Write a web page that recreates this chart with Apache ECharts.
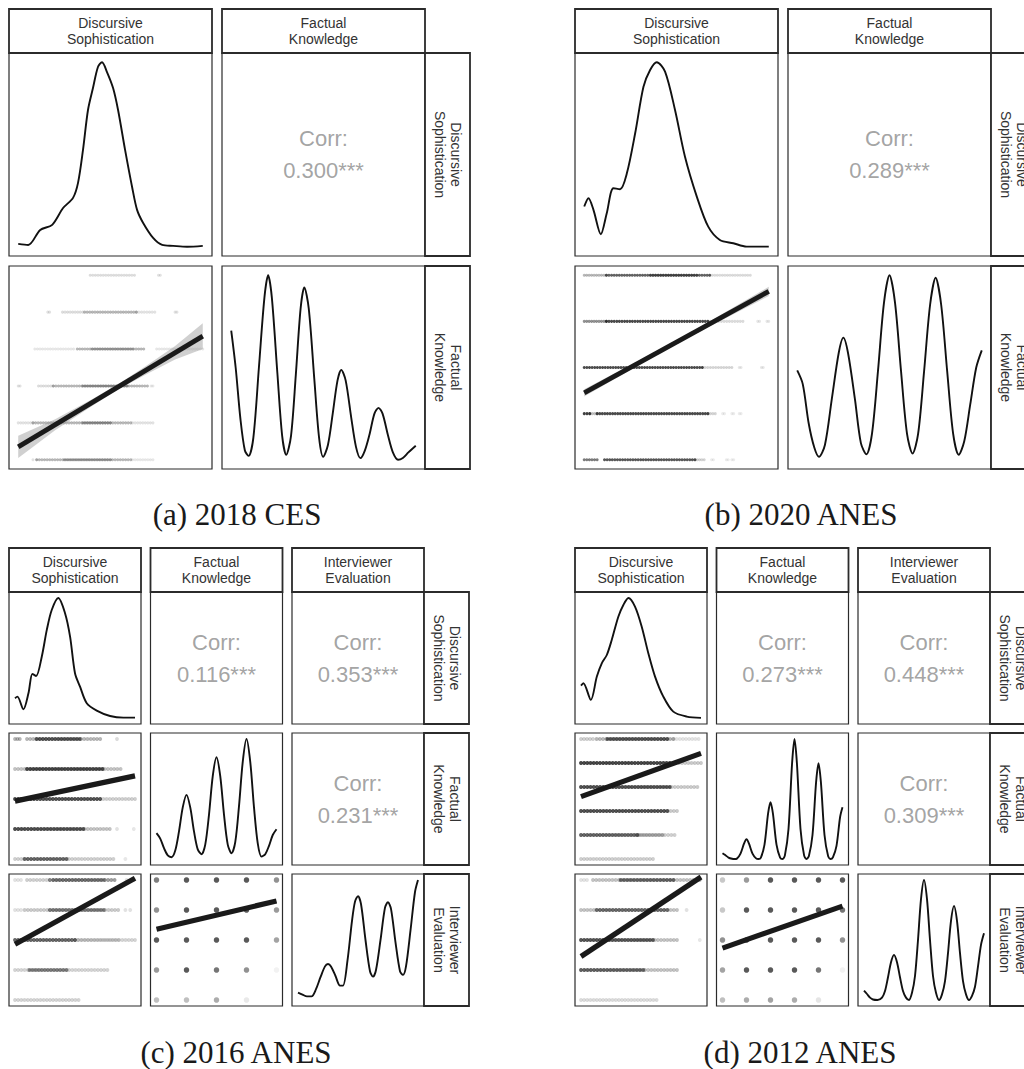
<!DOCTYPE html>
<html><head><meta charset="utf-8">
<script src="https://cdn.jsdelivr.net/npm/echarts@6/dist/echarts.min.js"></script>
<style>html,body{margin:0;padding:0;background:#fff}#c{width:1024px;height:1069px}</style>
</head><body><div id="c"></div>
<script>
// ================= DATA =================
const varLabels = {ds:'Discursive\nSophistication', fk:'Factual\nKnowledge', ie:'Interviewer\nEvaluation'};
const captions = ['(a) 2018 CES','(b) 2020 ANES','(c) 2016 ANES','(d) 2012 ANES'];

const a_vars = ['ds','fk'];
const b_vars = ['ds','fk'];
const c_vars = ['ds','fk','ie'];
const d_vars = ['ds','fk','ie'];

const a_ranges = {ds:[0,1], fk:[0,5]};
const b_ranges = {ds:[0,1], fk:[0,4]};
const c_ranges = {ds:[0,1], fk:[0,4], ie:[1,5]};
const d_ranges = {ds:[0,1], fk:[0,5], ie:[1,5]};

const a_corr = ['0.300***'];
const b_corr = ['0.289***'];
const c_corr = ['0.116***','0.353***','0.231***'];
const d_corr = ['0.273***','0.448***','0.309***'];

// densities: [value, relative density]
const a_dens_ds = [[0,0.016],[0.054,0.01],[0.119,0.091],[0.184,0.119],[0.243,0.21],[0.297,0.265],[0.324,0.346],[0.351,0.525],[0.378,0.741],[0.405,0.86],[0.432,0.974],[0.454,1.0],[0.481,0.947],[0.514,0.86],[0.541,0.741],[0.579,0.525],[0.617,0.324],[0.644,0.2],[0.677,0.129],[0.731,0.048],[0.78,0.01],[0.839,0.005],[0.915,0.0],[1.0,0.005]];
const a_dens_fk = [[0,0.70],[0.12,0.5],[0.25,0.22],[0.37,0.05],[0.47,0.021],[0.6,0.12],[0.75,0.5],[0.9,0.88],[1,1.0],[1.1,0.88],[1.25,0.47],[1.38,0.13],[1.49,0.027],[1.62,0.13],[1.75,0.46],[1.88,0.82],[1.98,0.934],[2.1,0.82],[2.25,0.44],[2.38,0.12],[2.49,0.016],[2.62,0.08],[2.75,0.25],[2.88,0.43],[2.98,0.487],[3.1,0.43],[3.25,0.23],[3.38,0.07],[3.5,0.009],[3.62,0.05],[3.75,0.14],[3.88,0.25],[3.99,0.281],[4.1,0.25],[4.25,0.13],[4.38,0.04],[4.52,0.0],[4.65,0.01],[4.8,0.04],[5,0.076]];
const b_dens_ds = [[0,0.218],[0.023,0.263],[0.05,0.2],[0.09,0.068],[0.122,0.182],[0.158,0.317],[0.194,0.312],[0.231,0.398],[0.276,0.615],[0.321,0.867],[0.357,0.958],[0.393,1.0],[0.438,0.949],[0.492,0.741],[0.546,0.488],[0.61,0.272],[0.672,0.109],[0.735,0.037],[0.808,0.019],[0.88,0.001],[1.0,0.001]];
const b_dens_fk = [[0,0.484],[0.12,0.41],[0.25,0.195],[0.37,0.066],[0.47,0.016],[0.6,0.08],[0.75,0.33],[0.9,0.58],[1,0.662],[1.1,0.58],[1.25,0.33],[1.38,0.09],[1.5,0.03],[1.62,0.14],[1.75,0.48],[1.88,0.85],[2,1.0],[2.12,0.85],[2.25,0.48],[2.38,0.14],[2.5,0.034],[2.62,0.14],[2.75,0.48],[2.88,0.84],[3,0.986],[3.12,0.84],[3.25,0.48],[3.38,0.14],[3.5,0.027],[3.62,0.1],[3.75,0.3],[3.88,0.5],[4,0.593]];
const c_dens_ds = [[0,0.165],[0.02,0.178],[0.07,0.073],[0.112,0.206],[0.145,0.367],[0.176,0.35],[0.223,0.511],[0.265,0.734],[0.306,0.9],[0.361,1.0],[0.417,0.873],[0.459,0.678],[0.5,0.373],[0.542,0.261],[0.598,0.123],[0.681,0.062],[0.792,0.017],[0.903,0.003],[1.0,0.003]];
const c_dens_fk = [[0,0.215],[0.125,0.17],[0.25,0.09],[0.375,0.03],[0.5,0.015],[0.625,0.07],[0.75,0.23],[0.875,0.43],[1,0.534],[1.125,0.43],[1.25,0.23],[1.375,0.08],[1.5,0.04],[1.625,0.12],[1.75,0.37],[1.875,0.69],[2,0.848],[2.125,0.69],[2.25,0.37],[2.375,0.12],[2.5,0.048],[2.625,0.14],[2.75,0.44],[2.875,0.81],[3,1.0],[3.125,0.81],[3.25,0.43],[3.375,0.13],[3.5,0.02],[3.625,0.04],[3.75,0.11],[3.875,0.2],[4,0.248]];
const c_dens_ie = [[1,0.062],[1.15,0.045],[1.3,0.03],[1.45,0.03],[1.6,0.09],[1.75,0.19],[1.9,0.28],[2,0.3],[2.1,0.28],[2.25,0.2],[2.4,0.12],[2.5,0.12],[2.65,0.33],[2.8,0.66],[2.9,0.82],[3,0.866],[3.1,0.8],[3.25,0.5],[3.4,0.24],[3.5,0.195],[3.6,0.25],[3.75,0.5],[3.9,0.77],[4,0.814],[4.1,0.76],[4.25,0.48],[4.4,0.24],[4.5,0.209],[4.6,0.28],[4.75,0.58],[4.9,0.9],[5,1.0]];
const d_dens_ds = [[0.0,0.27],[0.02,0.29],[0.082,0.151],[0.132,0.345],[0.173,0.456],[0.215,0.525],[0.256,0.65],[0.311,0.844],[0.353,0.942],[0.395,1.0],[0.45,0.928],[0.506,0.761],[0.561,0.54],[0.617,0.345],[0.686,0.178],[0.769,0.053],[0.881,0.012],[1.0,0.001]];
const d_dens_fk = [[0,0.048],[0.1,0.035],[0.25,0.012],[0.4,0.002],[0.5,0],[0.6,0.003],[0.75,0.045],[0.9,0.13],[1,0.165],[1.1,0.13],[1.25,0.045],[1.4,0.005],[1.5,0],[1.6,0.012],[1.75,0.12],[1.9,0.38],[2,0.473],[2.1,0.38],[2.25,0.12],[2.4,0.012],[2.5,0],[2.6,0.03],[2.75,0.25],[2.9,0.8],[3,1.0],[3.1,0.8],[3.25,0.25],[3.4,0.03],[3.5,0],[3.6,0.025],[3.75,0.2],[3.9,0.64],[4,0.798],[4.1,0.64],[4.25,0.2],[4.4,0.025],[4.5,0],[4.6,0.014],[4.75,0.11],[4.9,0.35],[5,0.431]];
const d_dens_ie = [[1,0.078],[1.1,0.05],[1.2,0.02],[1.3,0.004],[1.45,0],[1.6,0.02],[1.7,0.075],[1.8,0.19],[1.9,0.315],[2,0.376],[2.1,0.315],[2.2,0.19],[2.3,0.075],[2.4,0.02],[2.5,0],[2.6,0.06],[2.7,0.2],[2.8,0.5],[2.9,0.84],[3,1.0],[3.1,0.84],[3.2,0.5],[3.3,0.2],[3.4,0.06],[3.5,0],[3.6,0.047],[3.7,0.157],[3.8,0.39],[3.9,0.66],[4,0.784],[4.1,0.66],[4.2,0.39],[4.3,0.157],[4.4,0.047],[4.5,0],[4.6,0.035],[4.7,0.11],[4.8,0.28],[4.9,0.46],[5,0.556]];

// scatter bands: [x from, x to, y level, opacity]
const a_band_fk_ds = [
 [0.39,0.63,5,0.14],[0.76,0.77,5,0.12],
 [0.16,0.17,4,0.12],[0.24,0.35,4,0.14],[0.36,0.64,4,0.3],[0.64,0.74,4,0.12],[0.85,0.86,4,0.12],
 [0.09,0.3,3,0.1],[0.32,0.68,3,0.3],[0.4,0.62,3,0.22],[0.75,1.0,3,0.1],
 [0.0,0.01,2,0.12],[0.11,0.19,2,0.14],[0.19,0.7,2,0.3],[0.35,0.59,2,0.3],[0.72,0.73,2,0.1],
 [0.0,0.08,1,0.12],[0.08,0.61,1,0.3],[0.35,0.5,1,0.3],[0.62,0.73,1,0.12],
 [0.08,0.1,0,0.12],[0.1,0.61,0,0.3],[0.25,0.5,0,0.25],[0.62,0.73,0,0.1]
];
const b_band_fk_ds = [
 [0.0,0.12,4,0.3],[0.12,0.68,4,0.65],[0.36,0.61,4,0.4],[0.68,0.9,4,0.15],
 [0.0,0.12,3,0.45],[0.12,0.67,3,0.75],[0.67,0.86,3,0.15],[0.94,0.95,3,0.1],[0.99,1.0,3,0.1],
 [0.0,0.64,2,0.75],[0.64,0.8,2,0.18],[0.84,0.85,2,0.1],[0.96,0.97,2,0.1],
 [0.0,0.03,1,0.8],[0.03,0.07,1,0.25],[0.07,0.67,1,0.75],[0.67,0.71,1,0.18],[0.75,0.76,1,0.08],[0.8,0.81,1,0.08],[0.84,0.85,1,0.08],
 [0.0,0.07,0,0.55],[0.11,0.6,0,0.7],[0.6,0.65,0,0.18],[0.69,0.7,0,0.08],[0.77,0.78,0,0.08],[0.8,0.81,0,0.08]
];
const c_band_fk_ds = [
 [0,0.04,4,0.3],[0.1,0.71,4,0.3],[0.18,0.54,4,0.6],[0.85,0.86,4,0.15],
 [0,0.88,3,0.25],[0.1,0.73,3,0.7],
 [0,1.0,2,0.2],[0,0.71,2,0.65],
 [0,0.79,1,0.25],[0,0.57,1,0.65],[0.85,0.86,1,0.12],[0.99,1.0,1,0.1],
 [0,0.82,0,0.2],[0.08,0.43,0,0.55],[0.92,0.93,0,0.1]
];
const c_band_ie_ds = [
 [0,0.05,5,0.12],[0.1,0.29,5,0.2],[0.29,0.83,5,0.4],[0.32,0.74,5,0.35],[0.93,0.94,5,0.12],[0.99,1.0,5,0.12],
 [0,0.05,4,0.12],[0.08,0.86,4,0.22],[0.29,0.74,4,0.45],[0.92,0.96,4,0.12],
 [0,1.0,3,0.18],[0,0.5,3,0.55],[0.5,0.86,3,0.15],
 [0,0.77,2,0.18],[0.12,0.43,2,0.45],
 [0,0.53,1,0.18]
];
const d_band_fk_ds = [
 [0,0.1,5,0.2],[0.13,0.77,5,0.3],[0.22,0.72,5,0.6],[0.77,0.98,5,0.12],
 [0,1.0,4,0.22],[0,0.74,4,0.7],
 [0,0.97,3,0.22],[0,0.74,3,0.65],
 [0,0.8,2,0.22],[0,0.72,2,0.65],
 [0,0.78,1,0.2],[0,0.47,1,0.55],[0.47,0.68,1,0.25],
 [0,0.6,0,0.2]
];
const d_band_ie_ds = [
 [0,0.05,5,0.12],[0.1,0.99,5,0.25],[0.33,0.77,5,0.55],
 [0,0.8,4,0.25],[0.13,0.72,4,0.5],[0.88,0.89,4,0.12],
 [0,0.8,3,0.25],[0,0.6,3,0.6],[0.99,1.0,3,0.1],
 [0,0.8,2,0.25],[0,0.52,2,0.55],
 [0,0.63,1,0.15]
];

// dot grids: [factual knowledge, interviewer evaluation, opacity]
const c_dots_ie_fk = [
 [0,5,0.7],[1,5,0.9],[2,5,0.9],[3,5,0.9],[4,5,0.6],
 [0,4,0.6],[1,4,0.9],[2,4,0.9],[3,4,0.9],[4,4,0.55],
 [0,3,0.9],[1,3,0.9],[2,3,0.9],[3,3,0.9],[4,3,0.5],
 [0,2,0.55],[1,2,0.9],[2,2,0.75],[3,2,0.6],[4,2,0.07],
 [0,1,0.35],[1,1,0.35],[2,1,0.45],[3,1,0.12]
];
const d_dots_ie_fk = [
 [0,5,0.3],[1,5,0.55],[2,5,0.9],[3,5,0.9],[4,5,0.9],[5,5,0.9],
 [0,4,0.3],[1,4,0.9],[2,4,0.9],[3,4,0.9],[4,4,0.9],[5,4,0.75],
 [0,3,0.6],[1,3,0.9],[2,3,0.9],[3,3,0.9],[4,3,0.9],[5,3,0.6],
 [0,2,0.5],[1,2,0.9],[2,2,0.9],[3,2,0.9],[4,2,0.75],[5,2,0.07],
 [0,1,0.35],[1,1,0.45],[2,1,0.5],[3,1,0.45],[4,1,0.14]
];

// fitted lines and confidence bands
const a_fit_fk_ds = [[0,0.35],[1,3.35]];
const a_ci_fk_ds = [[0,0.05,0.65],[0.2,0.8,1.1],[0.4,1.46,1.64],[0.55,1.93,2.07],[0.7,2.33,2.57],[0.85,2.72,3.08],[1,3.0,3.7]];
const b_fit_fk_ds = [[0,1.45],[1,3.65]];
const b_ci_fk_ds = [[0,1.37,1.53],[0.5,2.52,2.58],[1,3.55,3.75]];
const c_fit_fk_ds = [[0,1.93],[1,2.77]];
const c_fit_ie_ds = [[0,2.86],[1,5.06]];
const c_fit_ie_fk = [[0,3.36],[4,4.30]];
const d_fit_fk_ds = [[0,2.6],[1,4.4]];
const d_fit_ie_ds = [[0,2.45],[1,5.10]];
const d_fit_ie_fk = [[0,2.73],[5,4.13]];

// ================= ASSEMBLY =================
const panels = [
 {vars:a_vars, ranges:a_ranges, corr:a_corr, dens:{ds:a_dens_ds, fk:a_dens_fk},
  lower:{'fk|ds':{bands:a_band_fk_ds, fit:a_fit_fk_ds, ci:a_ci_fk_ds}}},
 {vars:b_vars, ranges:b_ranges, corr:b_corr, dens:{ds:b_dens_ds, fk:b_dens_fk},
  lower:{'fk|ds':{bands:b_band_fk_ds, fit:b_fit_fk_ds, ci:b_ci_fk_ds}}},
 {vars:c_vars, ranges:c_ranges, corr:c_corr, dens:{ds:c_dens_ds, fk:c_dens_fk, ie:c_dens_ie},
  lower:{'fk|ds':{bands:c_band_fk_ds, fit:c_fit_fk_ds}, 'ie|ds':{bands:c_band_ie_ds, fit:c_fit_ie_ds}, 'ie|fk':{dots:c_dots_ie_fk, fit:c_fit_ie_fk}}},
 {vars:d_vars, ranges:d_ranges, corr:d_corr, dens:{ds:d_dens_ds, fk:d_dens_fk, ie:d_dens_ie},
  lower:{'fk|ds':{bands:d_band_fk_ds, fit:d_fit_fk_ds}, 'ie|ds':{bands:d_band_ie_ds, fit:d_fit_ie_ds}, 'ie|fk':{dots:d_dots_ie_fk, fit:d_fit_ie_fk}}}
];

// layout (pixels)
const layouts = [
 {colX:[9,222], rowY:[53,266], size:203, stripTop:9, stripH:44, rightW:45, capX:237, capY:514, dotR:1.5, dotStep:2.6, fitW:4.8, dotSize:5},
 {colX:[575,788], rowY:[53,266], size:203, stripTop:9, stripH:44, rightW:45, capX:801, capY:514, dotR:1.5, dotStep:2.6, fitW:4.8, dotSize:5},
 {colX:[9,150.5,292], rowY:[592,733,874], size:132, stripTop:548, stripH:44, rightW:45, capX:236, capY:1052, dotR:1.9, dotStep:3.2, fitW:5.2, dotSize:5.5},
 {colX:[575,716.5,858], rowY:[592,733,874], size:132, stripTop:548, stripH:44, rightW:45, capX:800, capY:1052, dotR:1.9, dotStep:3.2, fitW:5.2, dotSize:5.5}
];

const FONT_SANS = '"Liberation Sans", Arial, Helvetica, sans-serif';
const FONT_SERIF = '"Liberation Serif", "Times New Roman", serif';
const BORDER = '#2b2b2b';

function padRange(r){ const p=(r[1]-r[0])*0.05; return [r[0]-p, r[1]+p]; }
function bandRenderer(r, step){
  return function(params, api){
    const p0 = api.coord([api.value(0), api.value(2)]);
    const p1 = api.coord([api.value(1), api.value(2)]);
    const fill = 'rgba(15,15,15,'+api.value(3)+')';
    const children = [];
    const len = Math.max(p1[0]-p0[0], 0);
    const k = Math.max(1, Math.round(len/step)+1);
    for(let q=0;q<k;q++){
      const cx = k===1 ? p0[0] : p0[0] + len*q/(k-1);
      children.push({type:'circle', shape:{cx:cx, cy:p0[1], r:r}, style:{fill:fill}});
    }
    return {type:'group', children:children};
  };
}
function ciRenderer(ci){
  return function(params, api){
    const top = ci.map(d=>api.coord([d[0], d[2]]));
    const bot = ci.slice().reverse().map(d=>api.coord([d[0], d[1]]));
    return {type:'polygon', shape:{points:top.concat(bot)}, style:{fill:'rgba(150,150,150,0.45)'}};
  };
}

const chart = echarts.init(document.getElementById('c'), null, {renderer:'svg'});
const grids=[], xAxis=[], yAxis=[], series=[], elements=[];

panels.forEach((P, pi)=>{
  const L = layouts[pi];
  const n = P.vars.length;
  let corrIdx = 0;
  for(let i=0;i<n;i++){
    for(let j=0;j<n;j++){
      const gi = grids.length;
      grids.push({left:L.colX[j], top:L.rowY[i], width:L.size, height:L.size, show:true,
                  borderColor:BORDER, borderWidth:1.2, backgroundColor:'#ffffff'});
      const xv=P.vars[j], yv=P.vars[i];
      let xr, yr;
      if(i===j){ xr=padRange(P.ranges[xv]); yr=[-0.05,1.05]; }
      else if(i>j){ xr=padRange(P.ranges[xv]); yr=padRange(P.ranges[yv]); }
      else { xr=[0,1]; yr=[0,1]; }
      xAxis.push({type:'value', gridIndex:gi, min:xr[0], max:xr[1], show:false});
      yAxis.push({type:'value', gridIndex:gi, min:yr[0], max:yr[1], show:false});
      const base = {xAxisIndex:gi, yAxisIndex:gi, silent:true, animation:false};
      if(i===j){
        series.push(Object.assign({}, base, {type:'line', data:P.dens[xv], smooth:0.3, symbol:'none',
          lineStyle:{color:'#111', width:1.9}}));
      } else if(i>j){
        const cell = P.lower[yv+'|'+xv];
        if(cell.bands) series.push(Object.assign({}, base, {type:'custom', data:cell.bands, renderItem:bandRenderer(L.dotR, L.dotStep), clip:true}));
        if(cell.dots) series.push(Object.assign({}, base, {type:'scatter', data:cell.dots, symbolSize:L.dotSize,
          itemStyle:{color:(p)=>'rgba(25,25,25,'+p.value[2]+')'}}));
        if(cell.ci) series.push(Object.assign({}, base, {type:'custom', data:[[0,0]], renderItem:ciRenderer(cell.ci)}));
        series.push(Object.assign({}, base, {type:'line', data:cell.fit, symbol:'none',
          lineStyle:{color:'#1a1a1a', width:L.fitW}}));
      } else {
        const txt = P.corr[corrIdx++];
        series.push(Object.assign({}, base, {type:'scatter', data:[[0.5,0.5]], symbolSize:1,
          itemStyle:{color:'rgba(0,0,0,0)'},
          label:{show:true, position:'inside', formatter:'Corr:\n'+txt, fontSize:22, lineHeight:32,
                 color:'#8c8c8c', fontFamily:FONT_SANS}}));
      }
    }
  }
  // top strips
  P.vars.forEach((v,j)=>{
    elements.push({type:'rect', silent:true, shape:{x:L.colX[j], y:L.stripTop, width:L.size, height:L.stripH},
      style:{fill:'#fff', stroke:BORDER, lineWidth:1.8}});
    elements.push({type:'text', silent:true, x:L.colX[j]+L.size/2, y:L.stripTop+L.stripH/2,
      style:{text:varLabels[v], align:'center', verticalAlign:'middle', fontSize:14, lineHeight:16,
             fontFamily:FONT_SANS, fill:'#333'}});
  });
  // right strips
  P.vars.forEach((v,i)=>{
    const x0 = L.colX[n-1]+L.size;
    elements.push({type:'rect', silent:true, shape:{x:x0, y:L.rowY[i], width:L.rightW, height:L.size},
      style:{fill:'#fff', stroke:BORDER, lineWidth:1.8}});
    elements.push({type:'text', silent:true, x:x0+L.rightW/2, y:L.rowY[i]+L.size/2, rotation:-Math.PI/2,
      style:{text:varLabels[v], align:'center', verticalAlign:'middle', fontSize:14, lineHeight:16,
             fontFamily:FONT_SANS, fill:'#333'}});
  });
  elements.push({type:'text', silent:true, x:L.capX, y:L.capY,
    style:{text:captions[pi], align:'center', verticalAlign:'middle', fontSize:31, fontFamily:FONT_SERIF, fill:'#1a1a1a'}});
});

chart.setOption({
  animation:false,
  backgroundColor:'#ffffff',
  grid:grids, xAxis:xAxis, yAxis:yAxis, series:series,
  graphic:{elements:elements}
});
</script>
</body></html>
